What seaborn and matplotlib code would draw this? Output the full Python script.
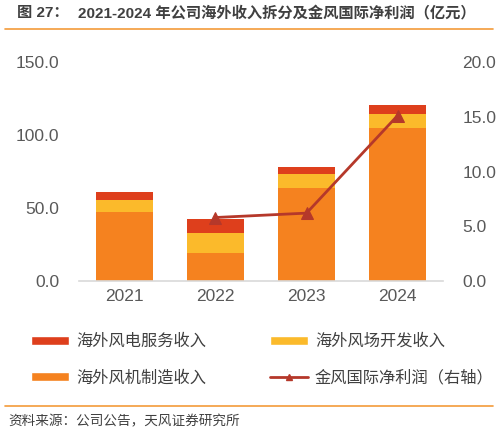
import pandas as pd
import matplotlib.pyplot as plt
import seaborn as sns
import numpy as np
from matplotlib.patches import Patch
from matplotlib.lines import Line2D

sns.set_theme(style="white")
plt.rcParams['font.family'] = ['Liberation Sans', 'Noto Sans CJK SC', 'DejaVu Sans']
plt.rcParams['axes.unicode_minus'] = False

# data (亿元)
years = ['2021', '2022', '2023', '2024']
manufacturing = [47.3, 19.4, 63.7, 104.8]   # 海外风机制造收入
wind_farm = [8.2, 13.5, 9.4, 9.6]           # 海外风场开发收入
service = [5.2, 9.3, 5.0, 6.1]              # 海外风电服务收入
net_profit = [np.nan, 5.8, 6.2, 15.1]       # 金风国际净利润（右轴）

c_service = '#DE3F1C'
c_farm = '#FBBA2B'
c_manu = '#F5821F'
c_line = '#B5382A'
gray = '#595959'

df = pd.DataFrame({'year': years, 'manu': manufacturing,
                   'farm': wind_farm, 'service': service})
df['lvl2'] = df['manu'] + df['farm']
df['lvl3'] = df['lvl2'] + df['service']
line_df = pd.DataFrame({'x': np.arange(len(years)), 'profit': net_profit}).dropna()

fig = plt.figure(figsize=(4.99, 4.34), dpi=100)
ax = fig.add_axes([0.1583, 0.3525, 0.7295, 0.5046])

# stacked bars drawn as layered cumulative totals
for col, colr in [('lvl3', c_service), ('lvl2', c_farm), ('manu', c_manu)]:
    sns.barplot(data=df, x='year', y=col, color=colr, width=0.62,
                saturation=1, linewidth=0, ax=ax)

ax.set_ylim(0, 150)
ax.set_yticks([0, 50, 100, 150])
ax.set_yticklabels([f'{v:.1f}' for v in [0, 50, 100, 150]])
ax.set_xlim(-0.5, 3.5)
ax.set_xlabel('')
ax.set_ylabel('')
for s in ['top', 'left', 'right']:
    ax.spines[s].set_visible(False)
ax.spines['bottom'].set_color('#D9D9D9')
ax.spines['bottom'].set_linewidth(1.2)
ax.tick_params(axis='both', length=0, colors=gray, labelsize=12.5)
ax.tick_params(axis='y', pad=14)
ax.tick_params(axis='x', pad=6)

ax2 = ax.twinx()
sns.lineplot(data=line_df, x='x', y='profit', color=c_line, marker='^',
             markersize=8, markeredgecolor=c_line, linewidth=2, ax=ax2)
ax2.set_ylim(0, 20)
ax2.set_yticks([0, 5, 10, 15, 20])
ax2.set_yticklabels([f'{v:.1f}' for v in [0, 5, 10, 15, 20]])
ax2.set_ylabel('')
ax2.set_xlim(-0.5, 3.5)
for s in ['top', 'left', 'right', 'bottom']:
    ax2.spines[s].set_visible(False)
ax2.tick_params(axis='y', length=0, colors=gray, labelsize=12.5, pad=14)
ax2.grid(False)
ax.grid(False)

# legend
handles = [
    Patch(facecolor=c_service, label='海外风电服务收入'),
    Patch(facecolor=c_manu, label='海外风机制造收入'),
    Patch(facecolor=c_farm, label='海外风场开发收入'),
    Line2D([0], [0], color=c_line, lw=2, marker='^', markersize=5,
           label='金风国际净利润（右轴）'),
]
fig.legend(handles=handles, loc='upper left', bbox_to_anchor=(0.063, 0.232),
           ncol=2, frameon=False, fontsize=11.7, handlelength=2.34,
           handleheight=0.5, handletextpad=0.43, columnspacing=3.9,
           labelspacing=1.3, borderpad=0, borderaxespad=0,
           labelcolor='#404040')

# title and rules
fig.text(0.034, 0.970, '图 27：', fontsize=11, fontweight='bold',
         color='#404040', va='center')
fig.text(0.156, 0.970, '2021-2024 年公司海外收入拆分及金风国际净利润（亿元）',
         fontsize=11, fontweight='bold', color='#404040', va='center')
fig.add_artist(Line2D([0.010, 0.988], [0.933, 0.933], color='#F39B3A', lw=1.2))
fig.add_artist(Line2D([0.010, 0.988], [0.064, 0.064], color='#F39B3A', lw=1.2))
fig.text(0.016, 0.029, '资料来源：公司公告，天风证券研究所', fontsize=9.8,
         color='#404040', va='center')

fig.savefig('out.png', dpi=100)
